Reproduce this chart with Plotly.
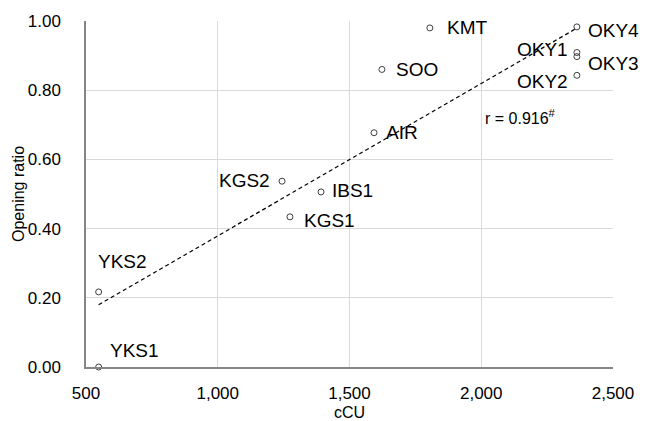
import numpy as np
import plotly.graph_objects as go

# Data
sites = ["YKS1", "YKS2", "KGS2", "IBS1", "KGS1", "AIR", "SOO", "KMT", "OKY4", "OKY1", "OKY3", "OKY2"]
ccu = [548, 548, 1244, 1392, 1274, 1593, 1623, 1805, 2363, 2363, 2363, 2363]
opening_ratio = [0.0, 0.217, 0.537, 0.506, 0.434, 0.677, 0.860, 0.980, 0.983, 0.909, 0.897, 0.843]
x_ticks = [500, 1000, 1500, 2000, 2500]
y_ticks = [0.0, 0.2, 0.4, 0.6, 0.8, 1.0]
r_text = "r = 0.916<sup>#</sup>"

# label placement styles (anchor, xshift px, yshift px)
label_style = {
    "YKS1": ("left", 9, 17),
    "YKS2": ("left", -3, 30),
    "KGS2": ("right", -10, 1),
    "IBS1": ("left", 9, 1),
    "KGS1": ("left", 12, -4),
    "AIR": ("left", 10, 0),
    "SOO": ("left", 12, 0),
    "KMT": ("left", 15, 0),
    "OKY4": ("left", 9, -4),
    "OKY1": ("right", -7, 3),
    "OKY3": ("left", 9, -7),
    "OKY2": ("right", -7, -6),
}

FONT = "Liberation Sans, Arial, sans-serif"

xa = np.array(ccu, dtype=float)
ya = np.array(opening_ratio, dtype=float)
slope, intercept = np.polyfit(xa, ya, 1)
tx = np.array([xa.min(), xa.max()])
ty = slope * tx + intercept

fig = go.Figure()
fig.add_trace(go.Scatter(
    x=tx, y=ty, mode="lines",
    line=dict(color="#000000", width=1.2, dash="4px,3px"),
    hoverinfo="skip", showlegend=False,
))
fig.add_trace(go.Scatter(
    x=ccu, y=opening_ratio, mode="markers",
    marker=dict(symbol="circle-open", size=6, color="#404040", line=dict(width=1, color="#404040")),
    cliponaxis=False, showlegend=False,
))

annotations = []
for s, xv, yv in zip(sites, ccu, opening_ratio):
    anc, dx, dy = label_style[s]
    annotations.append(dict(
        x=xv, y=yv, xref="x", yref="y", text=s, showarrow=False,
        xanchor=anc, yanchor="middle", xshift=dx, yshift=dy,
        font=dict(family=FONT, size=19, color="#000000"),
    ))
annotations.append(dict(
    x=2000, y=0.724, xref="x", yref="y", text=r_text, showarrow=False,
    xanchor="left", yanchor="middle", xshift=2,
    font=dict(family=FONT, size=16, color="#000000"),
))
annotations.append(dict(
    x=0.5, y=0, xref="paper", yref="paper", text="cCU", showarrow=False,
    xanchor="center", yanchor="middle", yshift=-45,
    font=dict(family=FONT, size=16, color="#000000"),
))
annotations.append(dict(
    x=0, y=0.5, xref="paper", yref="paper", text="Opening ratio", showarrow=False,
    xanchor="center", yanchor="middle", xshift=-68, textangle=-90,
    font=dict(family=FONT, size=16, color="#000000"),
))

fig.update_layout(
    width=646, height=421,
    margin=dict(l=86, r=33, t=18, b=54),
    paper_bgcolor="white", plot_bgcolor="white",
    annotations=annotations,
    xaxis=dict(
        range=[500, 2500], tickvals=x_ticks, tickformat=",",
        showgrid=True, gridcolor="#d9d9d9", gridwidth=1,
        showline=True, linecolor="#868686", linewidth=1.5,
        zeroline=False, ticks="", ticklabelstandoff=10,
        tickfont=dict(family=FONT, size=17, color="#000000"),
    ),
    yaxis=dict(
        range=[0, 1.0], tickvals=y_ticks, tickformat=".2f",
        showgrid=True, gridcolor="#d9d9d9", gridwidth=1,
        showline=True, linecolor="#868686", linewidth=1.5,
        zeroline=False, ticks="", ticklabelstandoff=20,
        tickfont=dict(family=FONT, size=17, color="#000000"),
    ),
)

fig.write_html("out.html")
